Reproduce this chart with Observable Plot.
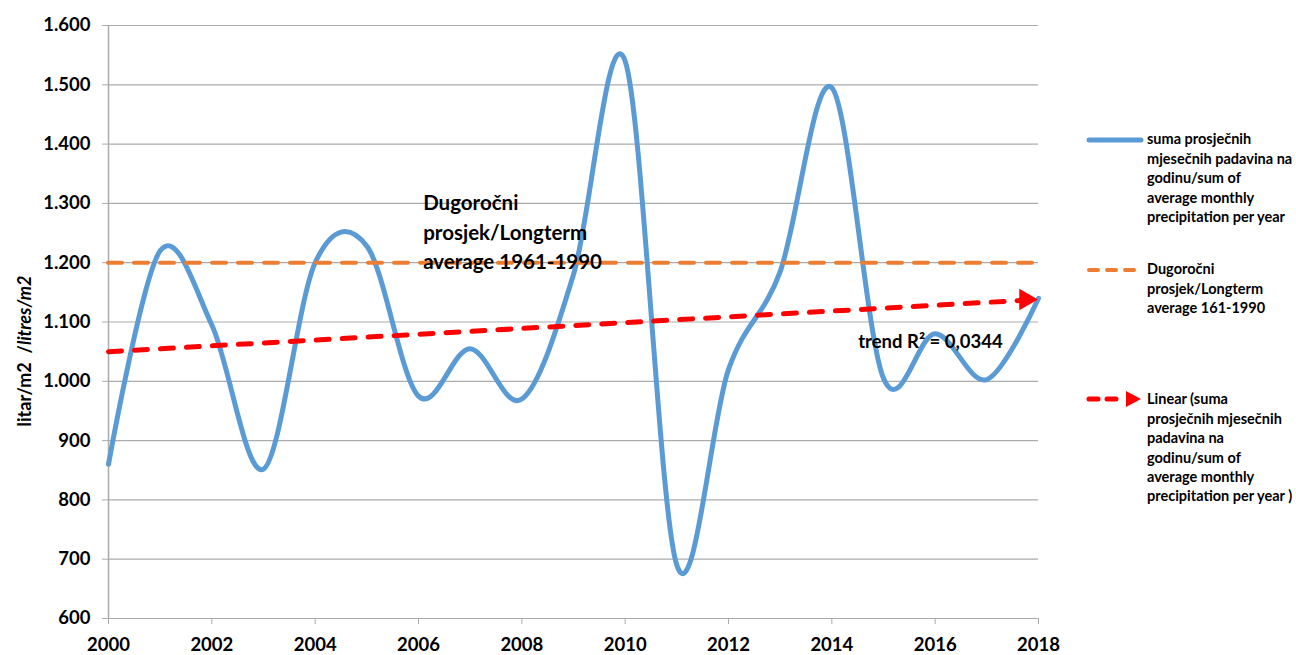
<!DOCTYPE html>
<html><head><meta charset="utf-8">
<script src="https://cdn.jsdelivr.net/npm/d3@7"></script>
<script src="https://cdn.jsdelivr.net/npm/@observablehq/plot@0.6"></script>
<style>
body{margin:0;background:#fff;font-family:Lato,"Open Sans",sans-serif;}
#wrap{position:relative;width:1296px;height:655px;overflow:hidden;}
#wrap svg.plot{position:absolute;left:0;top:0;}
.overlay{position:absolute;left:0;top:0;pointer-events:none;}
.leg{position:absolute;left:1147px;font:bold 14.5px Lato,sans-serif;line-height:19.4px;color:#000;white-space:nowrap;}
</style></head><body><div id="wrap"></div>
<script>
// ---- data ----
const years = [2000,2001,2002,2003,2004,2005,2006,2007,2008,2009,2010,2011,2012,2013,2014,2015,2016,2017,2018];
const precipitation = [860,1220,1095,852,1200,1228,975,1055,970,1180,1540,690,1020,1185,1495,1005,1080,1003,1140];
const longtermAverage = 1200;
const trendYears = [2000, 2018];
const trendValues = [1050, 1138];
const yTicks = [600,700,800,900,1000,1100,1200,1300,1400,1500,1600];
const xTicks = [2000,2002,2004,2006,2008,2010,2012,2014,2016,2018];
const annotationLongterm = "Dugoročni\nprosjek/Longterm\naverage 1961-1990";
const annotationTrend = "trend R² = 0,0344";
const legendLabels = [
  "suma prosječnih\nmjesečnih padavina na\ngodinu/sum of\naverage monthly\nprecipitation per year",
  "Dugoročni\nprosjek/Longterm\naverage 161-1990",
  "Linear (suma\nprosječnih mjesečnih\npadavina na\ngodinu/sum of\naverage monthly\nprecipitation per year )"
];
const yLabelPlain = "litar/m2 \u00a0/";
const yLabelItalic = "litres/m2";

// ---- build ----
const series = years.map((year, i) => ({year, value: precipitation[i]}));
const trend = trendYears.map((year, i) => ({year, value: trendValues[i]}));
const fmtY = d => d >= 1000 ? d3.format(",")(d).replace(",", ".") : String(d);
const grid = "#ababab";

const plot = Plot.plot({
  width: 1296, height: 655,
  marginLeft: 108, marginRight: 258, marginTop: 25, marginBottom: 37,
  style: {fontFamily: "Lato, sans-serif", fontWeight: "bold", fontSize: "18.5px", color: "#000", background: "transparent"},
  x: {domain: [2000, 2018]},
  y: {domain: [600, 1600]},
  marks: [
    Plot.gridY(yTicks, {stroke: grid, strokeOpacity: 1, strokeWidth: 1.2}),
    Plot.ruleX([2000], {stroke: grid, strokeWidth: 1.5}),
    Plot.axisY(yTicks, {tickSize: 6, tickPadding: 12, stroke: grid, strokeOpacity: 1, fill: "#000", tickFormat: fmtY, label: null}),
    Plot.axisX(xTicks, {tickSize: 6, tickPadding: 13, stroke: grid, strokeOpacity: 1, fill: "#000", tickFormat: d => String(d), label: null}),
    Plot.line(series, {x: "year", y: "value", curve: "cardinal", tension: 0, stroke: "#5b9bd5", strokeWidth: 5}),
    Plot.ruleY([longtermAverage], {x1: trendYears[0], x2: trendYears[1], stroke: "#ed7d31", strokeWidth: 4, strokeDasharray: "14,12", strokeLinecap: "round"}),
    Plot.line(trend, {x: "year", y: "value", stroke: "#ff0000", strokeWidth: 5, strokeDasharray: "13,13", strokeLinecap: "round"}),
    Plot.dot(trend.slice(-1), {x: "year", y: "value", symbol: "triangle", rotate: 90, r: 8, fill: "#ff0000", stroke: "none", dx: -13}),
    Plot.text([annotationLongterm], {x: 2006.09, y: 1323, text: d => d, textAnchor: "start", lineAnchor: "top", lineHeight: 1.42, fontSize: 20.5, fontWeight: "bold", fill: "#000"}),
    Plot.text([annotationTrend], {x: 2014.51, y: 1078, text: d => d, textAnchor: "start", lineAnchor: "top", fontSize: 18.5, fontWeight: "bold", fill: "#000"})
  ]
});
plot.classList.add("plot");
const wrap = document.getElementById("wrap");
wrap.appendChild(plot);

// y-axis title and legend overlay
const ns = "http://www.w3.org/2000/svg";
const ov = document.createElementNS(ns, "svg");
ov.setAttribute("class", "overlay");
ov.setAttribute("width", 1296); ov.setAttribute("height", 655);
const t = document.createElementNS(ns, "text");
t.setAttribute("transform", "translate(31,351) rotate(-90)");
t.setAttribute("text-anchor", "middle");
t.setAttribute("font-family", "Lato, sans-serif");
t.setAttribute("font-weight", "bold");
t.setAttribute("font-size", "18");
const s1 = document.createElementNS(ns, "tspan"); s1.textContent = yLabelPlain;
const s2 = document.createElementNS(ns, "tspan"); s2.textContent = yLabelItalic; s2.setAttribute("font-style", "italic");
t.appendChild(s1); t.appendChild(s2); ov.appendChild(t);

function add(tag, attrs) { const e = document.createElementNS(ns, tag); for (const k in attrs) e.setAttribute(k, attrs[k]); ov.appendChild(e); return e; }
// legend samples
add("line", {x1: 1089, x2: 1141, y1: 140, y2: 140, stroke: "#5b9bd5", "stroke-width": 5, "stroke-linecap": "round"});
add("line", {x1: 1089, x2: 1141, y1: 270, y2: 270, stroke: "#ed7d31", "stroke-width": 4, "stroke-dasharray": "9,9", "stroke-linecap": "round"});
add("line", {x1: 1089, x2: 1120, y1: 399, y2: 399, stroke: "#ff0000", "stroke-width": 5, "stroke-dasharray": "9,9", "stroke-linecap": "round"});
add("path", {d: "M1126,391 L1141,399 L1126,407 Z", fill: "#ff0000"});
wrap.appendChild(ov);

const legendTops = [139, 269, 399];
legendLabels.forEach((lab, i) => {
  const d = document.createElement("div");
  d.className = "leg";
  d.style.top = (legendTops[i] - 9.7) + "px";
  d.innerHTML = lab.split("\n").join("<br>");
  wrap.appendChild(d);
});
</script></body></html>
